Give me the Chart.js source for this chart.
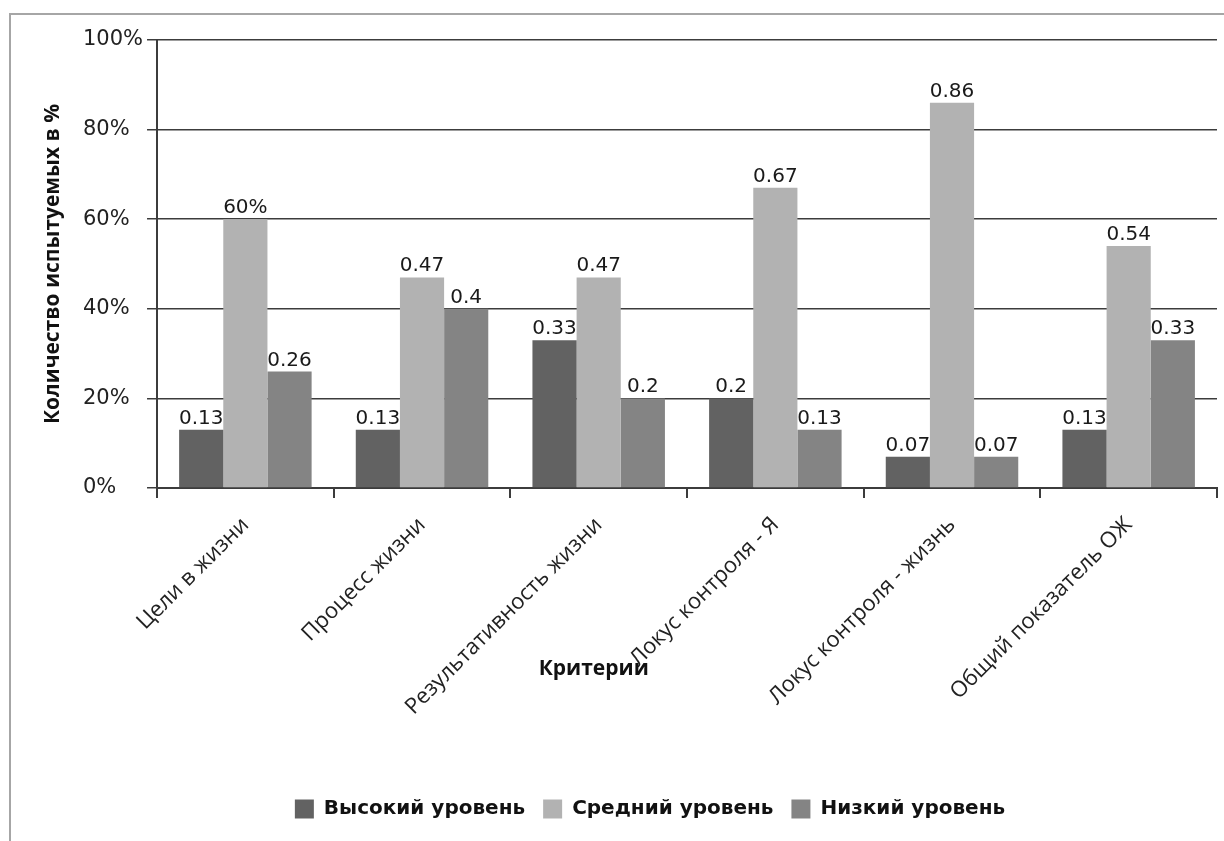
<!DOCTYPE html>
<html>
<head>
<meta charset="utf-8">
<script src="https://cdn.jsdelivr.net/npm/chart.js@4"></script>
<style>
html, body { margin: 0; padding: 0; background: #fff; overflow: hidden; }
#frame { position: absolute; left: 9px; top: 13px; width: 1240px; height: 860px; border: 2px solid #a6a6a6; box-sizing: border-box; }
#wrap { position: absolute; left: 0; top: 0; width: 1224px; height: 841px; }
</style>
</head>
<body>
<div id="frame"></div>
<div id="wrap"><canvas id="levelChart" width="1224" height="841"></canvas></div>
<script>
var criteria = ['Цели в жизни', 'Процесс жизни', 'Результативность жизни', 'Локус контроля - Я', 'Локус контроля - жизнь', 'Общий показатель ОЖ'];
var seriesNames = ['Высокий уровень', 'Средний уровень', 'Низкий уровень'];
var highLevel = [0.13, 0.13, 0.33, 0.2, 0.07, 0.13];
var midLevel = [0.60, 0.47, 0.47, 0.67, 0.86, 0.54];
var lowLevel = [0.26, 0.4, 0.2, 0.13, 0.07, 0.33];
var yTicks = [0, 0.2, 0.4, 0.6, 0.8, 1];
var colors = ['#626262', '#b2b2b2', '#848484'];

// подпись над столбиком: первое значение среднего уровня подписано в процентах
function valueText(v, di, i) {
    if (di === 1 && i === 0) return Math.round(v * 100) + '%';
    return String(v);
}

var barLabels = {
    id: 'barLabels',
    afterDatasetsDraw: function(chart) {
        var ctx = chart.ctx;
        ctx.save();
        ctx.font = '20px "DejaVu Sans"';
        ctx.fillStyle = '#1a1a1a';
        ctx.textAlign = 'center';
        ctx.textBaseline = 'alphabetic';
        chart.data.datasets.forEach(function(ds, di) {
            chart.getDatasetMeta(di).data.forEach(function(bar, i) {
                ctx.fillText(valueText(ds.data[i], di, i), bar.x, bar.y - 6);
            });
        });
        ctx.restore();
    }
};

// названия осей: Y слева от подписей делений, X поверх наклонных подписей
var axisTitles = {
    id: 'axisTitles',
    afterDraw: function(chart) {
        var a = chart.chartArea;
        var ctx = chart.ctx;
        ctx.save();
        ctx.fillStyle = '#111';
        ctx.textAlign = 'center';
        ctx.textBaseline = 'middle';
        ctx.font = 'bold 21px "Open Sans"';
        ctx.fillText('Критерии', a.left + (a.right - a.left) * 0.412, a.bottom + 181);
        ctx.translate(53, (a.top + a.bottom) / 2);
        ctx.rotate(-Math.PI / 2);
        ctx.fillText('Количество испытуемых в %', 0, 0);
        ctx.restore();
    }
};

var levelChart = new Chart(document.getElementById('levelChart').getContext('2d'), {
    type: 'bar',
    data: {
        labels: criteria,
        datasets: [highLevel, midLevel, lowLevel].map(function(vals, k) {
            return {
                label: seriesNames[k],
                data: vals,
                backgroundColor: colors[k],
                borderWidth: 0,
                categoryPercentage: 0.75,
                barPercentage: 1
            };
        })
    },
    options: {
        responsive: false,
        animation: false,
        layout: { padding: { left: 83, right: 7, top: 40, bottom: 12 } },
        plugins: {
            tooltip: { enabled: false },
            legend: {
                position: 'bottom',
                labels: {
                    boxWidth: 19,
                    boxHeight: 19,
                    padding: 18,
                    color: '#111',
                    font: { family: 'DejaVu Sans', weight: 'bold', size: 20 }
                }
            }
        },
        scales: {
            x: {
                afterFit: function(scale) { scale.height = 293; },
                grid: { drawOnChartArea: false, color: '#3c3c3c', lineWidth: 2, tickLength: 10, offset: true },
                border: { color: '#3c3c3c', width: 2 },
                ticks: {
                    autoSkip: false,
                    minRotation: 45,
                    maxRotation: 45,
                    padding: 14,
                    color: '#222',
                    font: { family: 'Open Sans', size: 22 }
                }
            },
            y: {
                min: 0,
                max: 1,
                afterBuildTicks: function(axis) {
                    axis.ticks = yTicks.map(function(v) { return { value: v }; });
                },
                grid: { color: '#3c3c3c', lineWidth: 1.5, tickLength: 10 },
                border: { color: '#3c3c3c', width: 2 },
                ticks: {
                    padding: 2,
                    crossAlign: 'far',
                    color: '#222',
                    font: { family: 'DejaVu Sans', size: 21 },
                    callback: function(v) { return Math.round(v * 100) + '%'; }
                }
            }
        }
    },
    plugins: [barLabels, axisTitles]
});
</script>
</body>
</html>
